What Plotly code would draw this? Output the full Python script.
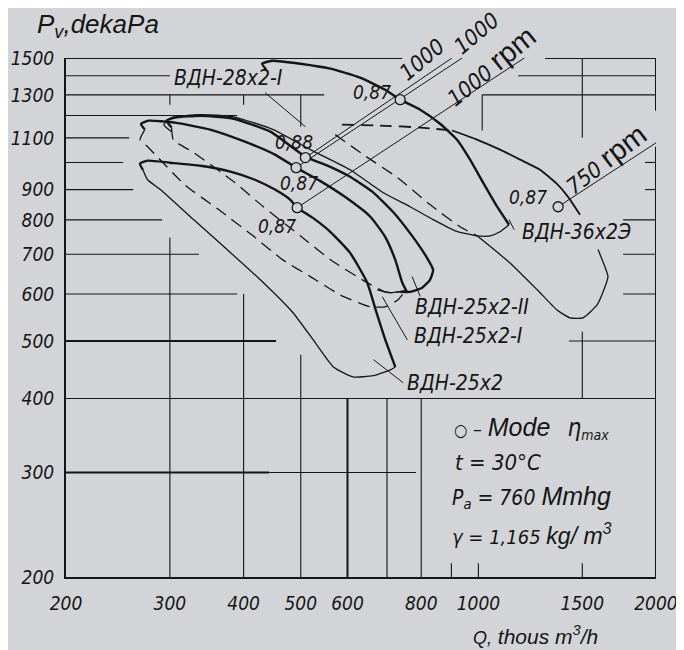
import numpy as np
import plotly.graph_objects as go

# ---------------- data: Q (thous m3/h) , Pv (dekaPa) ----------------
x_ticks = [200, 300, 400, 500, 600, 800, 1000, 1500, 2000]
y_ticks = [200, 300, 400, 500, 600, 700, 800, 900, 1100, 1300, 1500]

vdn28_upper_q = [437, 430, 447, 499, 561, 630, 695, 737, 797, 861, 920, 968, 1019, 1076, 1127]
vdn28_upper_p = [1433, 1467, 1484, 1467, 1439, 1390, 1326, 1276, 1227, 1162, 1092, 1011, 924, 842, 785]
vdn28_lower_q = [302, 293, 302, 338, 385, 449, 519, 606, 690, 766, 838, 913, 995, 1047, 1088, 1127]
vdn28_lower_p = [1127, 1158, 1190, 1204, 1194, 1136, 1051, 972, 889, 842, 801, 767, 752, 752, 764, 785]
vdn28_dash_q = [572, 638, 729, 828, 931, 995]
vdn28_dash_p = [1114, 1031, 943, 849, 779, 752]

vdn36_upper_dash_q = [587, 682, 797, 902]
vdn36_upper_dash_p = [1158, 1154, 1145, 1132]
vdn36_upper_q = [902, 987, 1088, 1177, 1272, 1359, 1419, 1487]
vdn36_upper_p = [1132, 1096, 1051, 1011, 972, 920, 875, 816]
vdn36_lower_q = [995, 1131, 1258, 1359, 1430, 1504, 1589, 1639, 1658, 1595]
vdn36_lower_p = [752, 677, 610, 564, 547, 547, 575, 617, 642, 713]

vdn25_2_upper_q = [302, 296, 306, 338, 385, 444, 509, 561, 606, 661, 717, 772, 812, 838, 828, 803, 766, 737]
vdn25_2_upper_p = [1145, 1176, 1190, 1199, 1185, 1127, 1023, 983, 946, 893, 825, 752, 699, 659, 634, 615, 605, 605]
vdn25_2_lower_q = [302, 304, 329, 385, 432, 499, 568, 648, 695, 737]
vdn25_2_lower_p = [1145, 1092, 1039, 928, 842, 752, 680, 627, 605, 605]

vdn25_1_upper_q = [272, 268, 276, 306, 351, 402, 452, 491, 539, 594, 656, 695, 723, 743, 758]
vdn25_1_upper_p = [1136, 1162, 1176, 1167, 1136, 1084, 1031, 980, 931, 875, 810, 749, 685, 627, 603]
vdn25_1_lower_q = [272, 267, 275, 318, 365, 415, 466, 519, 583, 656, 695, 731, 752]
vdn25_1_lower_p = [1136, 1092, 1063, 917, 829, 752, 685, 642, 598, 571, 571, 587, 608]
vdn25_1_arc_q = [674, 709, 752]
vdn25_1_arc_p = [610, 603, 608]

vdn25_upper_q = [270, 267, 275, 300, 338, 380, 418, 452, 480, 493, 529, 561, 606, 648, 672, 695, 723]
vdn25_upper_p = [972, 995, 1007, 999, 987, 965, 935, 900, 865, 839, 801, 764, 704, 627, 558, 503, 452]
vdn25_lower_q = [270, 275, 289, 329, 375, 427, 485, 525, 568, 613, 664, 709, 723]
vdn25_lower_p = [972, 935, 900, 801, 713, 634, 558, 502, 452, 435, 437, 447, 452]

# maximum-efficiency operating points
eta_q = [737, 509, 491, 493, 1365]
eta_p = [1276, 1019, 980, 839, 842]
eta_values = ["0,87", "0,88", "0,87", "0,87", "0,87"]

# constant-speed rays (start, end)
ray_a_q, ray_a_p = [509, 902], [1019, 1500]
ray_b_q, ray_b_p = [491, 1163], [980, 1727]
ray_c_q, ray_c_p = [493, 1349], [839, 1623]
ray_750_q, ray_750_p = [1365, 2000], [842, 1079]

# ---------------- style ----------------
INK = "#151515"
BG = "#d3d4d8"
NUM_FONT = "Liberation Sans Narrow, DejaVu Sans Condensed, Liberation Sans"
TXT_FONT = "Liberation Sans, Arial"
THICK, THIN = 2.4, 1.3
DASH = "12px,7px"

fig = go.Figure()


def curve(q, p, width=THIN, dash="solid", clip=True, smooth=True):
    fig.add_trace(go.Scatter(
        x=q, y=p, mode="lines",
        line=dict(color=INK, width=width, dash=dash,
                  shape="spline" if smooth else "linear", smoothing=0.5),
        hoverinfo="skip", showlegend=False, cliponaxis=clip))


def segments(segs, width):
    xs, ys = [], []
    for (q0, p0), (q1, p1) in segs:
        xs += [q0, q1, None]
        ys += [p0, p1, None]
    fig.add_trace(go.Scatter(x=xs, y=ys, mode="lines",
                             line=dict(color=INK, width=width),
                             hoverinfo="skip", showlegend=False, cliponaxis=False))


# partial grid of the original drawing
grid_thin = [
    ((200, 1400), (300, 1400)), ((1168, 1400), (2000, 1400)),
    ((200, 1300), (548, 1300)), ((1015, 1300), (2000, 1300)),
    ((200, 1200), (390, 1200)), ((200, 1100), (256, 1100)),
    ((200, 1000), (250, 1000)), ((200, 900), (260, 900)),
    ((200, 800), (291, 800)), ((200, 700), (336, 700)),
    ((200, 600), (390, 600)), ((1424, 500), (2000, 500)),
    ((200, 400), (2000, 400)), ((442, 300), (784, 300)),
    ((1916, 1000), (2000, 1000)), ((1916, 900), (2000, 900)),
    ((1759, 800), (2000, 800)), ((1759, 700), (2000, 700)), ((1759, 600), (2000, 600)),
    ((300, 200), (300, 747)), ((400, 200), (400, 600)), ((500, 200), (500, 474)),
    ((700, 200), (700, 400)), ((800, 200), (800, 400)),
    ((900, 200), (900, 211)), ((1000, 200), (1000, 211)), ((1500, 200), (1500, 211)),
    ((1500, 400), (1500, 518)), ((1500, 1101), (1500, 1500)),
    ((1015, 1132), (1015, 1300)),
    ((300, 1251), (300, 1300)), ((400, 1251), (400, 1300)), ((500, 1149), (500, 1300)),
]
grid_thick = [
    ((200, 500), (454, 500)), ((200, 300), (442, 300)), ((600, 200), (600, 400)),
    ((200, 1500), (743, 1500)), ((1297, 1500), (2000, 1500)),
    ((2000, 1500), (2000, 1222)), ((2000, 1063), (2000, 200)),
]
segments(grid_thin, 1.1)
segments(grid_thick, 2.0)

# rays
for rq, rp in [(ray_a_q, ray_a_p), (ray_b_q, ray_b_p), (ray_c_q, ray_c_p), (ray_750_q, ray_750_p)]:
    curve(rq, rp, width=1.0, clip=False, smooth=False)

# fan curves
curve(vdn28_upper_q, vdn28_upper_p, THICK)
curve(vdn28_lower_q, vdn28_lower_p, THIN)
curve(vdn28_dash_q, vdn28_dash_p, THIN, DASH)
curve(vdn36_upper_dash_q, vdn36_upper_dash_p, 1.8, DASH)
curve(vdn36_upper_q, vdn36_upper_p, 1.8)
curve(vdn36_lower_q, vdn36_lower_p, THIN)
curve(vdn25_2_upper_q, vdn25_2_upper_p, THICK)
curve(vdn25_2_lower_q, vdn25_2_lower_p, THIN, DASH)
curve(vdn25_1_upper_q, vdn25_1_upper_p, THICK)
curve(vdn25_1_lower_q, vdn25_1_lower_p, THIN, DASH)
curve(vdn25_1_arc_q, vdn25_1_arc_p, THIN)
curve(vdn25_upper_q, vdn25_upper_p, THICK)
curve(vdn25_lower_q, vdn25_lower_p, THIN)

# leaders of the fan labels
leaders = [((435, 1311), (509, 1149)), ((1127, 801), (1150, 770)),
           ((772, 642), (797, 594)), ((687, 594), (758, 502)), ((664, 465), (746, 425))]
segments(leaders, 1.0)

# efficiency points
fig.add_trace(go.Scatter(x=eta_q, y=eta_p, mode="markers",
                         marker=dict(symbol="circle", size=10, color=BG,
                                     line=dict(color=INK, width=1.3)),
                         hoverinfo="skip", showlegend=False, cliponaxis=False))

L = np.log10
anns = []


def text(t, q, p, size=17, angle=0, xanchor="center", family=NUM_FONT):
    anns.append(dict(text=t, x=L(q), y=L(p), xref="x", yref="y", showarrow=False,
                     textangle=angle, xanchor=xanchor, yanchor="middle",
                     font=dict(family=family, size=size, color=INK, style="italic")))


def ptext(t, x, y, size, angle=0, xanchor="center", family=NUM_FONT):
    anns.append(dict(text=t, x=x, y=y, xref="paper", yref="paper", showarrow=False,
                     textangle=angle, xanchor=xanchor, yanchor="middle",
                     font=dict(family=family, size=size, color=INK, style="italic")))


RPM = "<span style='font-family:Liberation Sans;font-size:29px;font-style:normal'>rpm</span>"

eta_label_pos = [(661, 1316), (487, 1084), (497, 924), (456, 782), (1214, 875)]
for lab, (q, p) in zip(eta_values, eta_label_pos):
    text(lab, q, p, 19)

text("ВДН-28x2-I", 302, 1390, 21, xanchor="left")
text("ВДН-36x2Э", 1177, 764, 21, xanchor="left")
text("ВДН-25x2-II", 775, 571, 21, xanchor="left")
text("ВДН-25x2-I", 772, 510, 21, xanchor="left")
text("ВДН-25x2", 750, 425, 21, xanchor="left")
text("1000", 803, 1490, 22, angle=-40)
ptext("1000", 0.695, 1.048, 22, angle=-40)
text("1000 " + RPM, 1047, 1455, 22, angle=-39)
text("750 " + RPM, 1639, 1015, 22, angle=-37)

# legend notes
text("<span style='font-size:17px'>○</span> – "
     "<span style='font-family:Liberation Sans;font-size:25px'>Mode</span>"
     "   <span style='font-size:24px'>η</span><sub>max</sub>", 902, 357, 20, xanchor="left")
text("t = 30°C", 905, 312, 22, xanchor="left")
text("P<sub>a</sub> = 760 <span style='font-family:Liberation Sans;font-size:25px'>Mmhg</span>",
     895, 273, 21, xanchor="left")
text("γ = 1,165 <span style='font-family:Liberation Sans;font-size:23px'>kg/ m<sup>3</sup></span>",
     895, 236, 20, xanchor="left")

# axis titles
ptext("P<sub>v</sub>,dekaPa", -0.0525, 1.062, 26, xanchor="left", family=TXT_FONT)
ptext("<span style='font-family:Liberation Sans Narrow, Liberation Sans;font-size:18px'>Q,</span>"
      " thous m<sup>3</sup>/h", 0.795, -0.111, 21, family=TXT_FONT)

# the page body has an 8 px default margin, so the figure is 8 px smaller
fig.update_layout(
    width=676, height=642,
    margin=dict(l=58, r=28, t=50, b=73, pad=0, autoexpand=False),
    paper_bgcolor=BG, plot_bgcolor=BG,
    annotations=anns,
    xaxis=dict(type="log", range=[L(200), L(2000)], tickvals=x_ticks, automargin=False,
               ticktext=[str(v) for v in x_ticks], ticks="", showgrid=False,
               zeroline=False, showline=True, linecolor=INK, linewidth=2,
               tickfont=dict(family=NUM_FONT, size=19, color=INK, style="italic"),
               ticklabelstandoff=8),
    yaxis=dict(type="log", range=[L(200), L(1500)], tickvals=y_ticks, automargin=False,
               ticktext=[str(v) for v in y_ticks], ticks="", showgrid=False,
               zeroline=False, showline=True, linecolor=INK, linewidth=2,
               tickfont=dict(family=NUM_FONT, size=19, color=INK, style="italic"),
               ticklabelstandoff=6),
)

fig.write_html("out.html")
